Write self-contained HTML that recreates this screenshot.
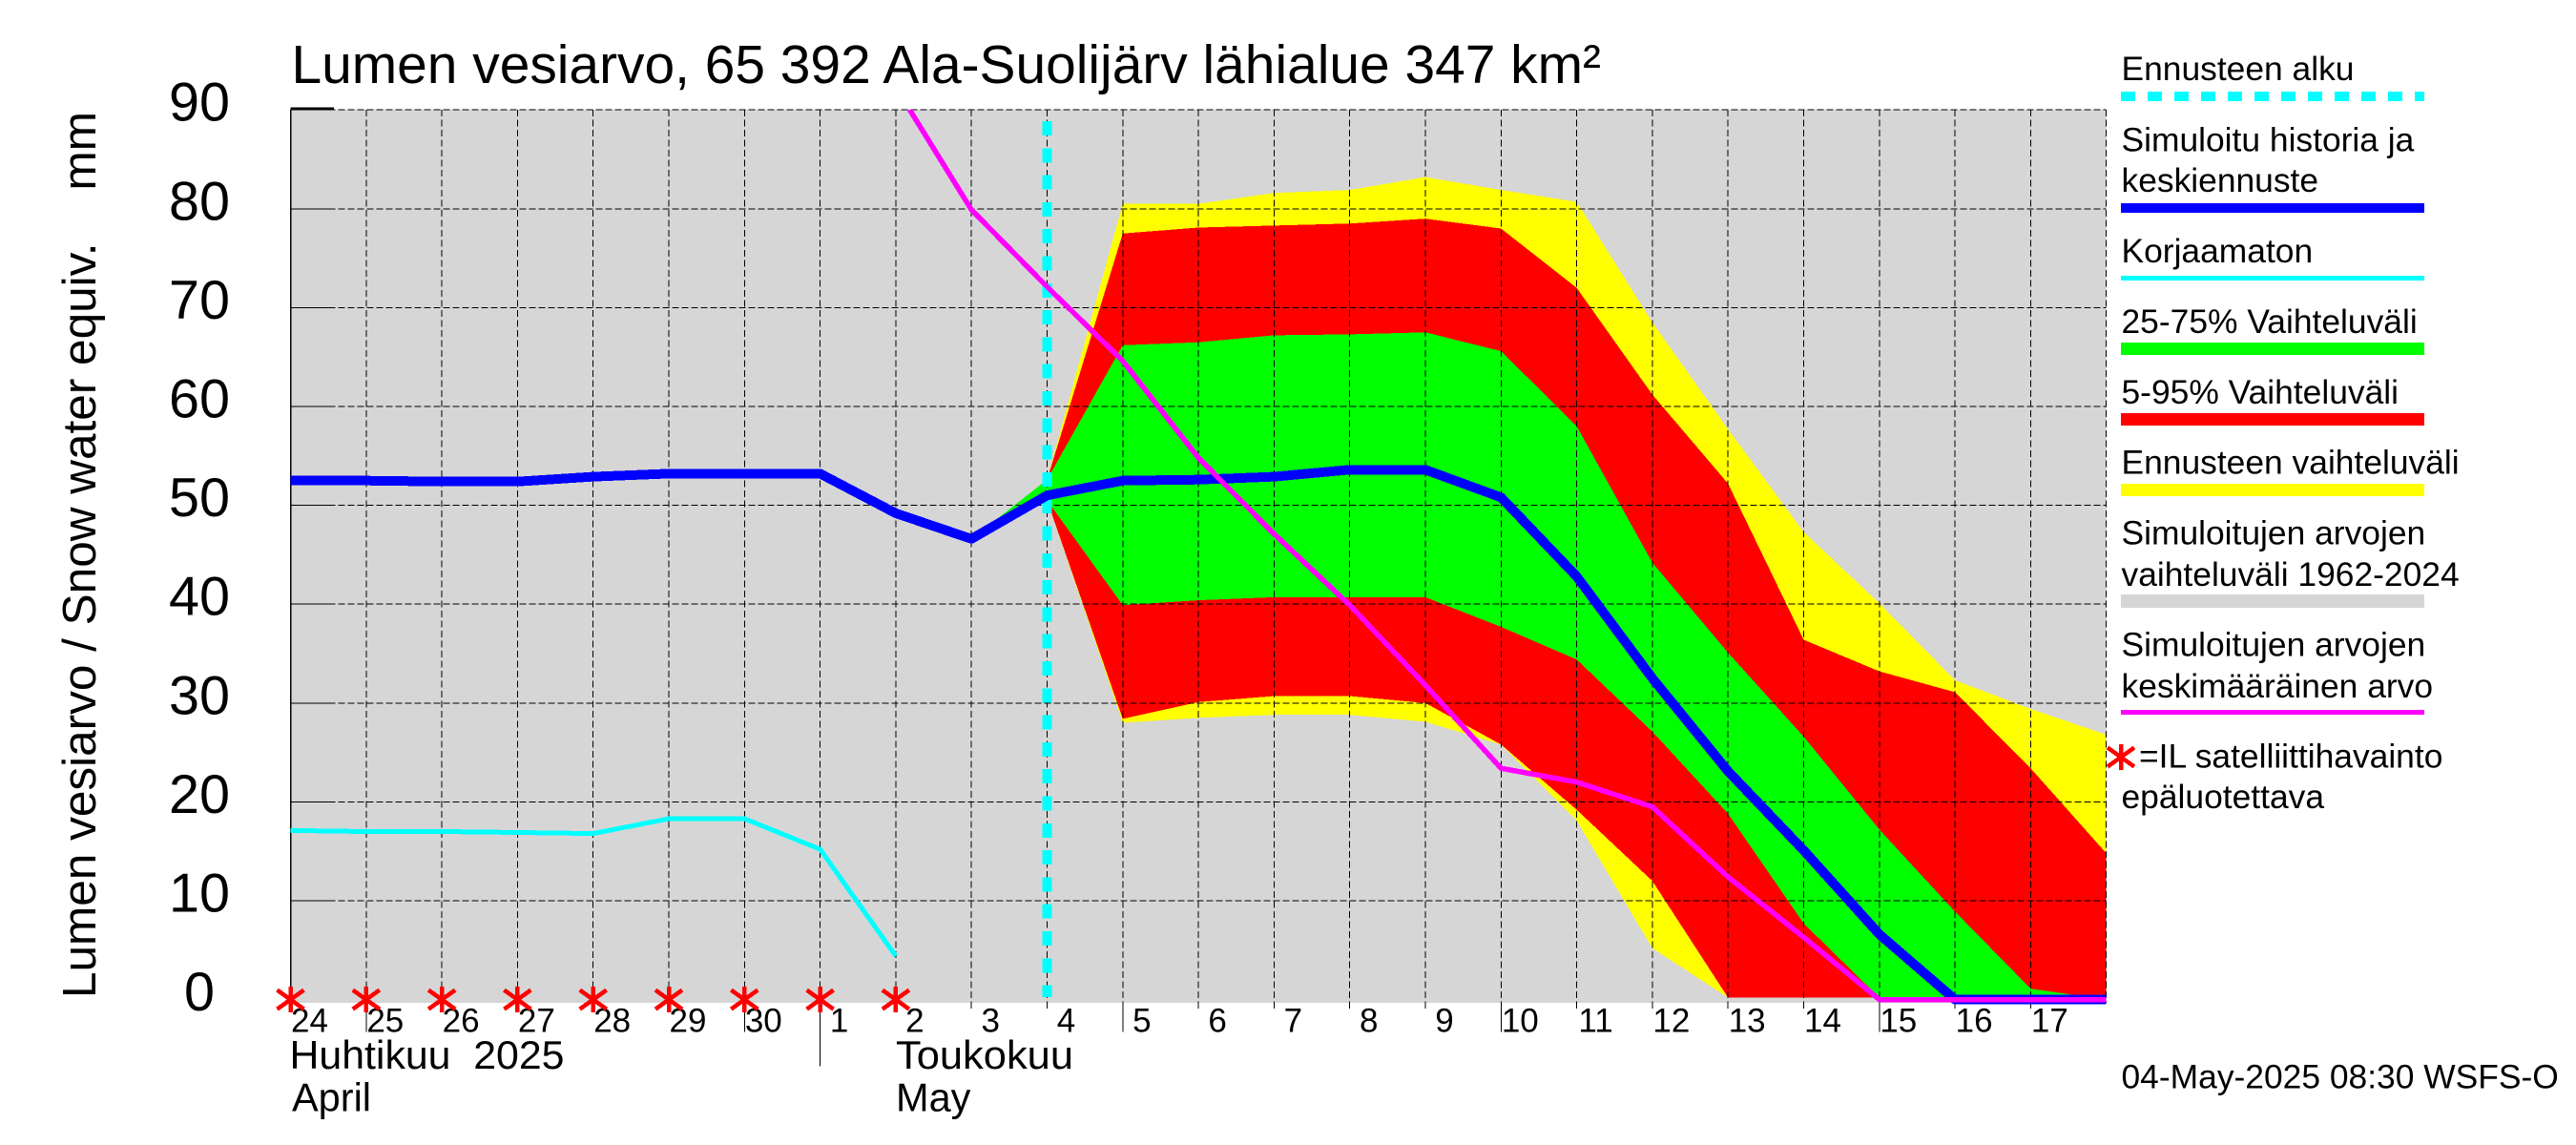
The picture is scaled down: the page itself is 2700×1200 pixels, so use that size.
<!DOCTYPE html>
<html lang="fi">
<head>
<meta charset="utf-8">
<title>Lumen vesiarvo, 65 392 Ala-Suolijärv lähialue 347 km²</title>
<style>
html,body{margin:0;padding:0;background:#fff;}
svg{display:block;}
text{font-family:"Liberation Sans",sans-serif;fill:#000;}
.lg{font-size:35.4px;}
.crisp{shape-rendering:crispEdges;}
</style>
</head>
<body>
<svg id="chart" xmlns="http://www.w3.org/2000/svg" width="2700" height="1200" viewBox="0 0 2700 1200">
  <defs>
    <clipPath id="plot-clip"><rect x="304" y="115" width="1904" height="945"></rect></clipPath>
  </defs>
  <rect x="0" y="0" width="2700" height="1200" fill="#ffffff"></rect>
  <rect class="crisp" x="304" y="115" width="1904" height="936" fill="#d6d6d6"></rect>
  <g id="bands"></g>
  <g id="grid"></g>
  <g id="xlabels"></g>
  <g id="ylabels"></g>
  <g id="lines"></g>
  <g id="stars"></g>

  <text x="305.5" y="87" font-size="56.9">Lumen vesiarvo, 65 392 Ala-Suolijärv lähialue 347 km²</text>
  <text xml:space="preserve" transform="translate(100,1046) rotate(-90)" font-size="49.5">Lumen vesiarvo / Snow water equiv.    mm</text>

  <text xml:space="preserve" x="303.5" y="1120" font-size="42" textLength="288" lengthAdjust="spacingAndGlyphs">Huhtikuu  2025</text>
  <text x="306" y="1164.5" font-size="41.5">April</text>
  <text x="939" y="1120" font-size="42" textLength="186" lengthAdjust="spacingAndGlyphs">Toukokuu</text>
  <text x="939" y="1164.5" font-size="41.5">May</text>

  <g>
    <text class="lg" x="2223.5" y="84">Ennusteen alku</text>
    <line class="crisp" x1="2223" y1="101" x2="2541" y2="101" stroke="#00ffff" stroke-width="10" stroke-dasharray="15 13"></line>
    <text class="lg" x="2223.5" y="158.7">Simuloitu historia ja</text>
    <text class="lg" x="2223.5" y="201">keskiennuste</text>
    <rect class="crisp" x="2223" y="213" width="318" height="10" fill="#0000ff"></rect>
    <text class="lg" x="2223.5" y="275">Korjaamaton</text>
    <rect class="crisp" x="2223" y="289" width="318" height="5" fill="#00ffff"></rect>
    <text class="lg" x="2223.5" y="349">25-75% Vaihteluväli</text>
    <rect class="crisp" x="2223" y="359" width="318" height="13" fill="#00ff00"></rect>
    <text class="lg" x="2223.5" y="423">5-95% Vaihteluväli</text>
    <rect class="crisp" x="2223" y="433" width="318" height="13" fill="#ff0000"></rect>
    <text class="lg" x="2223.5" y="496.7">Ennusteen vaihteluväli</text>
    <rect class="crisp" x="2223" y="507" width="318" height="13" fill="#ffff00"></rect>
    <text class="lg" x="2223.5" y="570.6">Simuloitujen arvojen</text>
    <text class="lg" x="2223.5" y="614">vaihteluväli 1962-2024</text>
    <rect class="crisp" x="2223" y="623" width="318" height="14" fill="#d6d6d6"></rect>
    <text class="lg" x="2223.5" y="687.6">Simuloitujen arvojen</text>
    <text class="lg" x="2223.5" y="731">keskimääräinen arvo</text>
    <rect class="crisp" x="2223" y="744" width="318" height="5" fill="#ff00ff"></rect>
    <g stroke="#ff0000" stroke-width="4.5" class="crisp">
      <line x1="2223" y1="780" x2="2223" y2="807"></line>
      <line x1="2209" y1="783.5" x2="2237" y2="803.5"></line>
      <line x1="2209" y1="803.5" x2="2237" y2="783.5"></line>
    </g>
    <text class="lg" x="2242" y="804.6">=IL satelliittihavainto</text>
    <text class="lg" x="2223.5" y="847">epäluotettava</text>
  </g>
  <text class="lg" x="2223.5" y="1140.7">04-May-2025 08:30 WSFS-O</text>
</svg>

<script>
// Axis categories and tick labels
const dayLabels = ['24','25','26','27','28','29','30','1','2','3','4','5','6','7','8','9','10','11','12','13','14','15','16','17'];
const longTickDays = ['25','30','5','10','15'];
const monthStartDay = '1';
const yTicks = [0,10,20,30,40,50,60,70,80,90];
const forecastStartDay = '4';
const satelliteDays = ['24','25','26','27','28','29','30','1','2'];

// Line series: one value (mm) per day, Apr 24 .. May 18; null = not drawn
const simulatedMm = [52.5,52.5,52.4,52.4,52.9,53.2,53.2,53.2,49.2,46.6,51.0,52.5,52.6,52.9,53.6,53.6,50.8,42.8,32.5,23.1,15.1,6.6,0,0,0];
const uncorrectedMm = [17.1,17.0,17.0,16.9,16.8,18.3,18.3,15.2,4.4,null,null,null,null,null,null,null,null,null,null,null,null,null,null,null,null];
const simMeanMm = [null,null,null,null,null,null,null,null,92.3,79.9,72.1,64.6,54.8,47.1,39.9,31.8,23.4,22.0,19.5,12.4,6.3,0,0,0,0];

// Forecast bands: one value (mm) per day, May 3 .. May 18
const bandFirstLabel = '3';
const yellowUpper = [46.6,52.6,80.5,80.5,81.6,81.9,83.2,81.9,80.7,68.5,57.7,47.3,40.1,32.3,29.4,26.8];
const yellowLower = [46.6,50.5,28.0,28.5,28.8,28.8,28.1,25.8,18.1,5.2,0.2,0.2,0.2,0.2,0.2,0.2];
const redUpper = [46.6,52.6,77.5,78.1,78.3,78.5,79.0,78.0,72.0,61.2,52.2,36.4,33.2,31.1,23.4,14.8];
const redLower = [46.6,50.5,28.4,30.1,30.7,30.7,30.0,25.8,19.2,12.0,0.2,0.2,0.2,0.2,0.2,0.2];
const greenUpper = [46.6,52.6,66.2,66.5,67.2,67.3,67.5,65.6,58.0,44.2,35.1,26.6,17.2,8.9,1.1,0];
const greenLower = [46.6,50.5,39.9,40.4,40.7,40.7,40.7,37.7,34.4,27.1,18.8,7.7,0.2,0.2,0.2,0.2];

// Axis functions
const PLOT_LEFT = 304.5, DAY_W = 79.3, PLOT_TOP = 115, PLOT_BOTTOM = 1051;
function xAt(d){ return PLOT_LEFT + DAY_W * d; }
function yAt(v){ return 1047.6 - 10.36 * v; }
function dayIndex(label){ return dayLabels.indexOf(label); }

const NS = 'http://www.w3.org/2000/svg';
function mk(tag, parent){
  const el = document.createElementNS(NS, tag);
  parent.appendChild(el);
  return el;
}
function segment(parent, x1, y1, x2, y2, width, dash){
  const el = mk('line', parent);
  el.setAttribute('x1', x1);
  el.setAttribute('y1', y1);
  el.setAttribute('x2', x2);
  el.setAttribute('y2', y2);
  el.setAttribute('stroke', '#000');
  el.setAttribute('stroke-width', width);
  el.setAttribute('class', 'crisp');
  if (dash) el.setAttribute('stroke-dasharray', dash);
  return el;
}

// Bands
const bandsG = document.getElementById('bands');
function drawBand(upper, lower, color, name){
  const start = dayIndex(bandFirstLabel);
  const pts = [];
  upper.forEach(function(v, i){ pts.push(xAt(start + i).toFixed(1) + ',' + yAt(v).toFixed(1)); });
  for (let i = lower.length - 1; i >= 0; i--) pts.push(xAt(start + i).toFixed(1) + ',' + yAt(lower[i]).toFixed(1));
  const el = mk('polygon', bandsG);
  el.setAttribute('points', pts.join(' '));
  el.setAttribute('fill', color);
  el.setAttribute('class', 'crisp');
  
  
}
drawBand(yellowUpper, yellowLower, '#ffff00', 'band-forecast-range');
drawBand(redUpper, redLower, '#ff0000', 'band-5-95');
drawBand(greenUpper, greenLower, '#00ff00', 'band-25-75');

// Grid and ticks
const gridG = document.getElementById('grid');
const plotRight = xAt(dayLabels.length);
yTicks.forEach(function(v){
  if (v === 0) return;
  const y = yAt(v);
  const isTop = v === yTicks[yTicks.length - 1];
  const gy = isTop ? PLOT_TOP : y;
  const g = segment(gridG, PLOT_LEFT, gy, plotRight, gy, 1, '7 3');
  
  
  const t = segment(gridG, PLOT_LEFT, isTop ? gy - 1 : gy, 350, isTop ? gy - 1 : gy, isTop ? 3 : 1);
  
  
});
const axisLeft = segment(gridG, PLOT_LEFT, PLOT_TOP, PLOT_LEFT, PLOT_BOTTOM, 1.5);


for (let d = 1; d <= dayLabels.length; d++){
  const g = segment(gridG, xAt(d), PLOT_TOP, xAt(d), PLOT_BOTTOM, 1, '7 3.5');
  
  
}
dayLabels.forEach(function(label, d){
  let bottom = 1057;
  if (longTickDays.indexOf(label) >= 0) bottom = 1081.7;
  if (label === monthStartDay) bottom = 1117.7;
  const t = segment(gridG, xAt(d), PLOT_BOTTOM, xAt(d), bottom, 1);
  
  
});

// Axis labels
const xLabelsG = document.getElementById('xlabels');
dayLabels.forEach(function(label, d){
  const el = mk('text', xLabelsG);
  el.setAttribute('x', xAt(d) + 20);
  el.setAttribute('y', 1081.5);
  el.setAttribute('font-size', 35);
  el.setAttribute('text-anchor', 'middle');
  el.textContent = label;
  
  
});
const yLabelsG = document.getElementById('ylabels');
yTicks.forEach(function(v){
  const el = mk('text', yLabelsG);
  el.setAttribute('x', 209);
  el.setAttribute('y', yAt(v) + 11.5);
  el.setAttribute('font-size', 57.5);
  el.setAttribute('text-anchor', 'middle');
  el.textContent = String(v);
  
  
});

// Lines
const linesG = document.getElementById('lines');
linesG.setAttribute('clip-path', 'url(#plot-clip)');
function drawLine(values, color, width, name){
  const pts = [];
  values.forEach(function(v, d){
    if (v !== null) pts.push(xAt(d).toFixed(1) + ',' + yAt(v).toFixed(1));
  });
  const el = mk('polyline', linesG);
  el.setAttribute('points', pts.join(' '));
  el.setAttribute('fill', 'none');
  el.setAttribute('stroke', color);
  el.setAttribute('stroke-width', width);
  el.setAttribute('stroke-linejoin', 'round');
  el.setAttribute('class', 'crisp');
  
  
}
drawLine(uncorrectedMm, '#00ffff', 5, 'line-uncorrected');
const fx = xAt(dayIndex(forecastStartDay));
const forecastLine = mk('line', linesG);
forecastLine.setAttribute('x1', fx);
forecastLine.setAttribute('y1', 127);
forecastLine.setAttribute('x2', fx);
forecastLine.setAttribute('y2', 1045);
forecastLine.setAttribute('stroke', '#00ffff');
forecastLine.setAttribute('stroke-width', 10);
forecastLine.setAttribute('stroke-dasharray', '15 13.3');
forecastLine.setAttribute('class', 'crisp');


drawLine(simulatedMm, '#0000ff', 10, 'line-simulated');
drawLine(simMeanMm, '#ff00ff', 5.5, 'line-simulated-mean');

// Satellite markers
const starsG = document.getElementById('stars');
satelliteDays.forEach(function(label){
  const cx = xAt(dayIndex(label));
  const cy = yAt(0);
  const g = mk('g', starsG);
  g.setAttribute('stroke', '#ff0000');
  g.setAttribute('stroke-width', 4.5);
  g.setAttribute('class', 'crisp');
  
  
  [[0,-13.5,0,13.5],[-14,-10,14,10],[-14,10,14,-10]].forEach(function(a){
    const l = mk('line', g);
    l.setAttribute('x1', cx + a[0]);
    l.setAttribute('y1', cy + a[1]);
    l.setAttribute('x2', cx + a[2]);
    l.setAttribute('y2', cy + a[3]);
  });
});
</script>
</body>
</html>
